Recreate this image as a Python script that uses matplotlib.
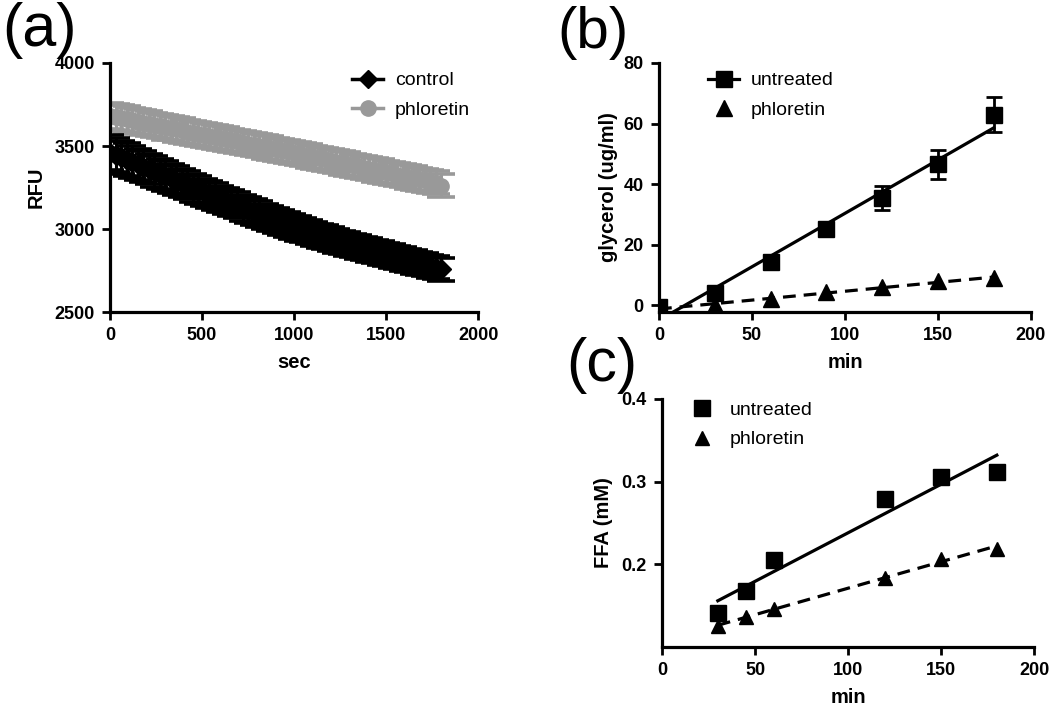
import numpy as np
import matplotlib
matplotlib.use("Agg")
import matplotlib.pyplot as plt
from matplotlib.lines import Line2D

plt.rcParams['font.family'] = ['Liberation Sans', 'DejaVu Sans']
plt.rcParams['font.weight'] = 'bold'
plt.rcParams['axes.labelweight'] = 'bold'

# ---- panel (a): fluorescence vs time ----
sec = list(range(0, 1801, 30))
rfu_control = [3460, 3445, 3431, 3417, 3403, 3389, 3375, 3361, 3347, 3333,
               3319, 3305, 3291, 3277, 3263, 3249, 3236, 3222, 3209, 3195,
               3182, 3168, 3155, 3142, 3129, 3116, 3103, 3090, 3077, 3064,
               3052, 3040, 3028, 3016, 3004, 2993, 2982, 2971, 2960, 2950,
               2940, 2930, 2920, 2910, 2901, 2892, 2883, 2874, 2865, 2856,
               2847, 2838, 2829, 2820, 2811, 2802, 2793, 2784, 2775, 2766, 2757]
err_control = [105, 103, 101, 99, 97, 95, 93, 92, 91, 90,
               89, 88, 87, 86, 85, 84, 83, 82, 81, 80,
               80, 79, 79, 78, 78, 77, 77, 76, 76, 75,
               75, 75, 74, 74, 74, 73, 73, 73, 72, 72,
               72, 72, 71, 71, 71, 71, 70, 70, 70, 70,
               70, 70, 70, 70, 70, 70, 70, 70, 70, 70, 70]
rfu_phloretin = [3680, 3674, 3667, 3661, 3654, 3647, 3640, 3633, 3627, 3620,
                 3613, 3607, 3600, 3594, 3587, 3580, 3574, 3567, 3561, 3554,
                 3547, 3541, 3534, 3528, 3521, 3514, 3508, 3501, 3494, 3488,
                 3481, 3474, 3468, 3461, 3454, 3447, 3440, 3433, 3426, 3419,
                 3412, 3405, 3398, 3391, 3384, 3377, 3370, 3363, 3356, 3349,
                 3342, 3335, 3328, 3321, 3314, 3307, 3300, 3293, 3286, 3279, 3262]
err_phloretin = [80, 79, 78, 77, 76, 76, 75, 75, 74, 74,
                 74, 73, 73, 73, 72, 72, 72, 72, 71, 71,
                 71, 71, 71, 70, 70, 70, 70, 70, 70, 70,
                 70, 70, 70, 70, 70, 70, 70, 70, 70, 70,
                 70, 70, 70, 70, 70, 70, 70, 70, 70, 70,
                 70, 70, 70, 70, 70, 70, 70, 70, 70, 70, 70]

# ---- panel (b): glycerol release ----
min_b = [0, 30, 60, 90, 120, 150, 180]
gly_untreated = [-0.7, 4.1, 14.3, 25.0, 35.4, 46.5, 62.9]
gly_untreated_err = [1.0, 1.0, 1.0, 1.0, 4.1, 4.8, 5.8]
gly_phloretin = [-1.0, 0.0, 2.0, 4.2, 6.0, 7.9, 8.8]

# ---- panel (c): free fatty acids ----
min_c = [30, 45, 60, 120, 150, 180]
ffa_untreated = [0.141, 0.168, 0.205, 0.279, 0.306, 0.312]
ffa_phloretin = [0.125, 0.136, 0.146, 0.184, 0.207, 0.219]

gray = '#999999'
leg_prop = {'size': 14, 'weight': 'normal'}


def style(ax):
    for s in ['top', 'right']:
        ax.spines[s].set_visible(False)
    for s in ['left', 'bottom']:
        ax.spines[s].set_linewidth(2.3)
    ax.tick_params(direction='out', length=6, width=2, labelsize=13, pad=5)
    for t in ax.get_xticklabels() + ax.get_yticklabels():
        t.set_fontweight('bold')


fig = plt.figure(figsize=(10.5, 7.15), dpi=100)

# (a)
ax1 = fig.add_axes([0.1048, 0.5636, 0.3505, 0.3483])
ax1.errorbar(sec, rfu_phloretin, yerr=err_phloretin, color=gray, marker='o',
             ms=11, lw=2.5, elinewidth=2.2, capsize=10, capthick=2.6, zorder=2)
ax1.errorbar(sec, rfu_control, yerr=err_control, color='k', marker='D',
             ms=10, lw=2.5, elinewidth=2.2, capsize=10, capthick=2.6, zorder=3)
ax1.set_xlim(0, 2000)
ax1.set_ylim(2500, 4000)
ax1.set_xticks([0, 500, 1000, 1500, 2000])
ax1.set_yticks([2500, 3000, 3500, 4000])
ax1.set_xlabel('sec', fontsize=14.5, labelpad=6)
ax1.set_ylabel('RFU', fontsize=14.5, labelpad=6)
style(ax1)
h1 = [Line2D([], [], color='k', marker='D', ms=9, lw=2.5),
      Line2D([], [], color=gray, marker='o', ms=11, lw=2.5)]
ax1.legend(h1, ['control', 'phloretin'], loc='upper left',
           bbox_to_anchor=(0.61, 1.035), frameon=False, prop=leg_prop,
           handlelength=1.6, handletextpad=0.6, labelspacing=0.6)

# (b)
ax2 = fig.add_axes([0.6276, 0.5636, 0.3543, 0.3483])
fit_u = np.polyfit(min_b, gly_untreated, 1)
fit_p = np.polyfit(min_b, gly_phloretin, 1)
xb = np.array([min_b[0], min_b[-1]])
ax2.plot(xb, np.polyval(fit_u, xb), color='k', lw=2.3, zorder=2)
ax2.plot(xb, np.polyval(fit_p, xb), color='k', lw=2.3, ls=(0, (4, 2.5)), zorder=2)
ax2.errorbar(min_b, gly_untreated, yerr=gly_untreated_err, fmt='s', color='k',
             ms=11, elinewidth=2, capsize=6, capthick=2, zorder=3)
ax2.plot(min_b, gly_phloretin, '^', color='k', ms=11, zorder=3)
ax2.set_xlim(0, 200)
ax2.set_ylim(-2.3, 80)
ax2.set_xticks([0, 50, 100, 150, 200])
ax2.set_yticks([0, 20, 40, 60, 80])
ax2.set_xlabel('min', fontsize=14.5, labelpad=6)
ax2.set_ylabel('glycerol (ug/ml)', fontsize=14.5, labelpad=4)
style(ax2)
h2 = [Line2D([], [], color='k', marker='s', ms=11, lw=2.3),
      Line2D([], [], color='k', marker='^', ms=11, lw=0)]
ax2.legend(h2, ['untreated', 'phloretin'], loc='upper left',
           bbox_to_anchor=(0.085, 1.035), frameon=False, prop=leg_prop,
           handlelength=1.6, handletextpad=0.6, labelspacing=0.6)

# (c)
ax3 = fig.add_axes([0.6305, 0.0951, 0.3543, 0.3469])
fc_u = np.polyfit(min_c, ffa_untreated, 1)
fc_p = np.polyfit(min_c, ffa_phloretin, 1)
xc = np.array([min_c[0], min_c[-1]])
ax3.plot(xc, np.polyval(fc_u, xc), color='k', lw=2.3, zorder=2)
ax3.plot(xc, np.polyval(fc_p, xc), color='k', lw=2.3, ls=(0, (4, 2.5)), zorder=2)
ax3.plot(min_c, ffa_untreated, 's', color='k', ms=11, zorder=3)
ax3.plot(min_c, ffa_phloretin, '^', color='k', ms=10, zorder=3)
ax3.set_xlim(0, 200)
ax3.set_ylim(0.1, 0.4)
ax3.set_xticks([0, 50, 100, 150, 200])
ax3.set_yticks([0.2, 0.3, 0.4])
ax3.set_yticklabels(['0.2', '0.3', '0.4'])
ax3.set_xlabel('min', fontsize=14.5, labelpad=6)
ax3.set_ylabel('FFA (mM)', fontsize=14.5, labelpad=6)
style(ax3)
h3 = [Line2D([], [], color='k', marker='s', ms=11, lw=0),
      Line2D([], [], color='k', marker='^', ms=10, lw=0)]
ax3.legend(h3, ['untreated', 'phloretin'], loc='upper left',
           bbox_to_anchor=(0.03, 1.06), frameon=False, prop=leg_prop,
           handlelength=1.2, handletextpad=0.8, labelspacing=0.6)

# panel letters
fig.text(0.002, 0.958, '(a)', fontsize=44, fontweight='normal', va='center', ha='left')
fig.text(0.531, 0.954, '(b)', fontsize=42, fontweight='normal', va='center', ha='left')
fig.text(0.539, 0.489, '(c)', fontsize=44, fontweight='normal', va='center', ha='left')

fig.savefig('out.png', dpi=100)
